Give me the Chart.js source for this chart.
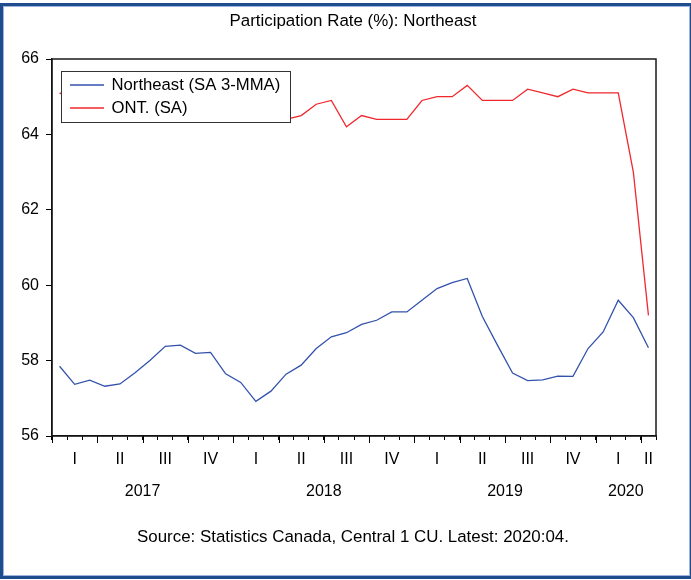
<!DOCTYPE html>
<html>
<head>
<meta charset="utf-8">
<script src="https://cdn.jsdelivr.net/npm/chart.js@4/dist/chart.umd.min.js"></script>
<style>
  html, body { margin: 0; padding: 0; background: #ffffff; }
  #wrap { width: 691px; height: 580px; position: relative; }
</style>
</head>
<body>
<div id="wrap"><canvas id="chart" width="691" height="580"></canvas></div>
<script>
// Monthly observations, Jan 2017 – Apr 2020
const months = [
  '2017:01','2017:02','2017:03','2017:04','2017:05','2017:06','2017:07','2017:08','2017:09','2017:10','2017:11','2017:12',
  '2018:01','2018:02','2018:03','2018:04','2018:05','2018:06','2018:07','2018:08','2018:09','2018:10','2018:11','2018:12',
  '2019:01','2019:02','2019:03','2019:04','2019:05','2019:06','2019:07','2019:08','2019:09','2019:10','2019:11','2019:12',
  '2020:01','2020:02','2020:03','2020:04'
];

// Northeast participation rate, seasonally adjusted 3-month moving average
const northeast = [
  57.85, 57.37, 57.48, 57.32, 57.38, 57.68, 58.01, 58.38, 58.41, 58.19, 58.22, 57.65,
  57.42, 56.92, 57.19, 57.64, 57.88, 58.32, 58.63, 58.74, 58.96, 59.07, 59.29, 59.29,
  59.60, 59.91, 60.07, 60.18, 59.17, 58.41, 57.67, 57.47, 57.49, 57.59, 57.58, 58.32,
  58.76, 59.60, 59.14, 58.34
];

// Ontario participation rate, seasonally adjusted
const ontario = [
  65.1, 64.9, 64.9, 64.9, 64.8, 64.7, 64.6, 64.7, 64.8, 64.7, 64.8, 64.9,
  64.8, 64.5, 64.4, 64.4, 64.5, 64.8, 64.9, 64.2, 64.5, 64.4, 64.4, 64.4,
  64.9, 65.0, 65.0, 65.3, 64.9, 64.9, 64.9, 65.2, 65.1, 65.0, 65.2, 65.1,
  65.1, 65.1, 63.0, 59.2
];

const yTicks = [56, 58, 60, 62, 64, 66];
const quarterNames = ['I', 'II', 'III', 'IV'];
const seriesNames = ['Northeast (SA 3-MMA)', 'ONT. (SA)'];
const titleText = 'Participation Rate (%): Northeast';
const sourceText = 'Source: Statistics Canada, Central 1 CU. Latest: 2020:04.';

const FONT = '"Liberation Sans", Arial, Helvetica, sans-serif';
const BLUE = '#3352AC';
const RED = '#F0282E';

// Group month indices into quarters and years for the two-row time axis
function groupBy(keyFn) {
  const groups = [];
  months.forEach((m, i) => {
    const key = keyFn(m);
    const last = groups[groups.length - 1];
    if (last && last.key === key) last.end = i;
    else groups.push({ key, start: i, end: i });
  });
  return groups;
}
const quarters = groupBy(m => m.slice(0, 4) + 'Q' + Math.floor((+m.slice(5) - 1) / 3));
const years = groupBy(m => m.slice(0, 4));

const decor = {
  id: 'decor',
  afterDatasetsDraw(chart) {
    const { ctx } = chart;
    // legend box inside the plot, upper left
    ctx.save();
    const lx = 61.5, ly = 71.5, lw = 229, lh = 51;
    ctx.fillStyle = '#ffffff';
    ctx.fillRect(lx, ly, lw, lh);
    ctx.strokeStyle = '#333333';
    ctx.lineWidth = 1;
    ctx.strokeRect(lx, ly, lw, lh);
    const rows = [[seriesNames[0], BLUE, 85], [seriesNames[1], RED, 108]];
    ctx.font = '16.7px ' + FONT;
    ctx.textBaseline = 'middle';
    ctx.textAlign = 'left';
    rows.forEach(([txt, col, y]) => {
      ctx.strokeStyle = col;
      ctx.lineWidth = 1.3;
      ctx.beginPath();
      ctx.moveTo(70, y);
      ctx.lineTo(104, y);
      ctx.stroke();
      ctx.fillStyle = '#000000';
      ctx.fillText(txt, 111.5, y + 0.5);
    });
    ctx.restore();
  },
  afterDraw(chart) {
    const { ctx, chartArea: a, scales: { x } } = chart;
    ctx.save();
    // plot frame
    ctx.strokeStyle = '#1a1a1a';
    ctx.lineWidth = 1.5;
    ctx.strokeRect(a.left, a.top, a.right - a.left, a.bottom - a.top);

    // longer ticks at quarter boundaries
    ctx.strokeStyle = '#000000';
    ctx.lineWidth = 1;
    quarters.forEach(q => {
      const px = Math.round(x.getPixelForValue(q.start - 0.5)) + 0.5;
      ctx.beginPath();
      ctx.moveTo(px, a.bottom);
      ctx.lineTo(px, a.bottom + 7);
      ctx.stroke();
    });

    ctx.fillStyle = '#000000';
    ctx.font = '16px ' + FONT;
    ctx.textAlign = 'center';
    ctx.textBaseline = 'middle';
    quarters.forEach(q => {
      const qi = +q.key.slice(-1);
      ctx.fillText(quarterNames[qi], x.getPixelForValue((q.start + q.end) / 2), 460);
    });
    years.forEach(y => {
      ctx.fillText(y.key, x.getPixelForValue((y.start + y.end) / 2), 492);
    });

    const cx = (a.left + a.right) / 2 - 1;
    ctx.font = '16.9px ' + FONT;
    ctx.fillText(titleText, cx, 21);
    ctx.fillText(sourceText, cx, 537.5);

    // outer frame
    ctx.strokeStyle = '#1F4C8C';
    ctx.lineWidth = 3;
    ctx.strokeRect(1.5, 4.5, 690, 573);
    ctx.strokeStyle = '#9DB4DA';
    ctx.lineWidth = 1;
    ctx.strokeRect(3.5, 6.5, 686, 569);
    ctx.restore();
  }
};

new Chart(document.getElementById('chart'), {
  type: 'line',
  data: {
    labels: months,
    datasets: [
      { label: seriesNames[0], data: northeast, borderColor: BLUE, borderWidth: 1.3, pointRadius: 0, tension: 0, fill: false },
      { label: seriesNames[1], data: ontario, borderColor: RED, borderWidth: 1.3, pointRadius: 0, tension: 0, fill: false }
    ]
  },
  options: {
    responsive: false,
    devicePixelRatio: 1,
    animation: false,
    events: [],
    layout: { padding: { top: 59, right: 35, left: 0, bottom: 0 } },
    plugins: {
      legend: { display: false },
      title: { display: false },
      tooltip: { enabled: false }
    },
    scales: {
      x: {
        type: 'category',
        offset: true,
        grid: { offset: true, drawOnChartArea: false, drawTicks: true, tickLength: 4, color: '#000000', lineWidth: 1 },
        border: { display: true, color: '#000000', width: 1.3 },
        ticks: { display: false, autoSkip: false, maxRotation: 0 },
        afterFit(s) { s.height = 144; }
      },
      y: {
        min: 56,
        max: 66,
        afterBuildTicks(s) { s.ticks = yTicks.map(v => ({ value: v })); },
        grid: { drawOnChartArea: false, drawTicks: true, tickLength: 6, color: '#000000', lineWidth: 1 },
        border: { display: true, color: '#000000', width: 1.3 },
        ticks: { color: '#000000', padding: 7, font: { size: 16, family: FONT } },
        afterFit(s) { s.width = 52; }
      }
    }
  },
  plugins: [decor]
});
</script>
</body>
</html>
